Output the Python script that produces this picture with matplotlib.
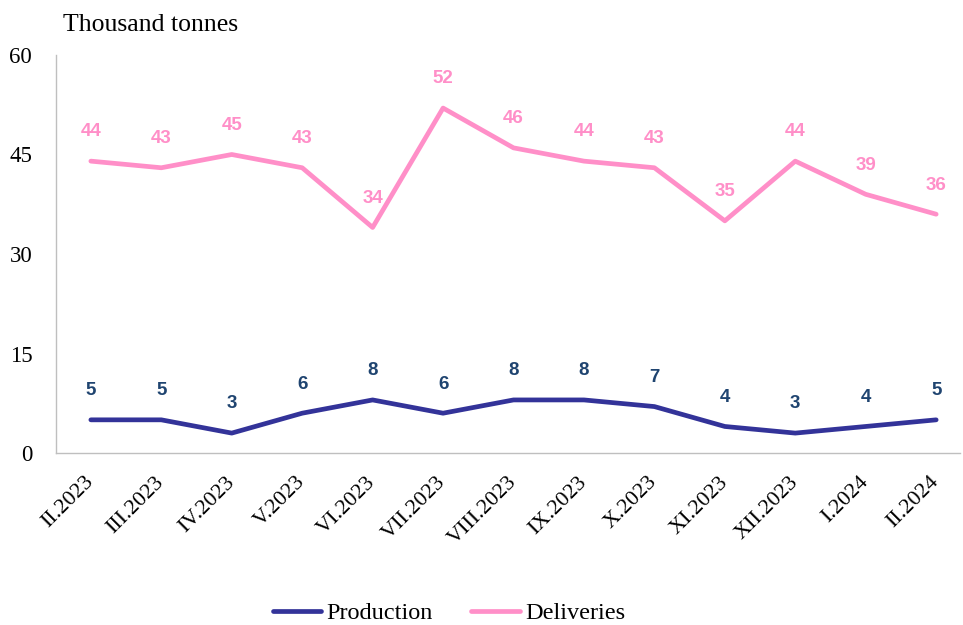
import matplotlib
matplotlib.use("Agg")
import matplotlib.pyplot as plt

months = ["II.2023", "III.2023", "IV.2023", "V.2023", "VI.2023", "VII.2023",
          "VIII.2023", "IX.2023", "X.2023", "XI.2023", "XII.2023", "I.2024", "II.2024"]
production = [5, 5, 3, 6, 8, 6, 8, 8, 7, 4, 3, 4, 5]
deliveries = [44, 43, 45, 43, 34, 52, 46, 44, 43, 35, 44, 39, 36]
yticks = [0, 15, 30, 45, 60]

plt.rcParams['font.family'] = ['Liberation Serif', 'DejaVu Serif']

fig = plt.figure(figsize=(9.63, 6.25), dpi=100)
ax = fig.add_axes([0.058, 0.2752, 0.939, 0.6368])

x = list(range(len(months)))
prod_c = "#333399"
deliv_c = "#FF8FC8"
ax.plot(x, production, color=prod_c, lw=3.4, label="Production", solid_capstyle="round")
ax.plot(x, deliveries, color=deliv_c, lw=3.4, label="Deliveries", solid_capstyle="round")

lab_font = ['Liberation Sans', 'DejaVu Sans']
for xi, v in zip(x, production):
    ax.annotate(str(v), (xi, v), xytext=(0, 21), textcoords="offset points",
                ha="center", va="center", color="#1F4470", fontsize=13.5,
                fontweight="bold", family=lab_font)
for xi, v in zip(x, deliveries):
    ax.annotate(str(v), (xi, v), xytext=(0, 21), textcoords="offset points",
                ha="center", va="center", color=deliv_c, fontsize=13.5,
                fontweight="bold", family=lab_font)

ax.set_xlim(-0.497, 12.34)
ax.set_ylim(0, 60)
ax.set_yticks(yticks)
ax.set_xticks(x)
ax.set_xticklabels(months, rotation=45, ha="right", va="center",
                   rotation_mode="anchor", fontsize=16)
ax.tick_params(axis="y", length=0, labelsize=16.5, pad=17)
ax.tick_params(axis="x", length=0, pad=19)
for s in ["top", "right"]:
    ax.spines[s].set_visible(False)
for s in ["left", "bottom"]:
    ax.spines[s].set_color("#BFBFBF")
    ax.spines[s].set_linewidth(1)

fig.text(0.065, 0.96, "Thousand tonnes", fontsize=18.5, ha="left", va="center")

leg = fig.legend(loc="center", bbox_to_anchor=(0.466, 0.019), ncol=2, frameon=False,
                 fontsize=17.5, handlelength=2.0, handletextpad=0.2, columnspacing=1.6)

fig.savefig("out.png", dpi=100)
